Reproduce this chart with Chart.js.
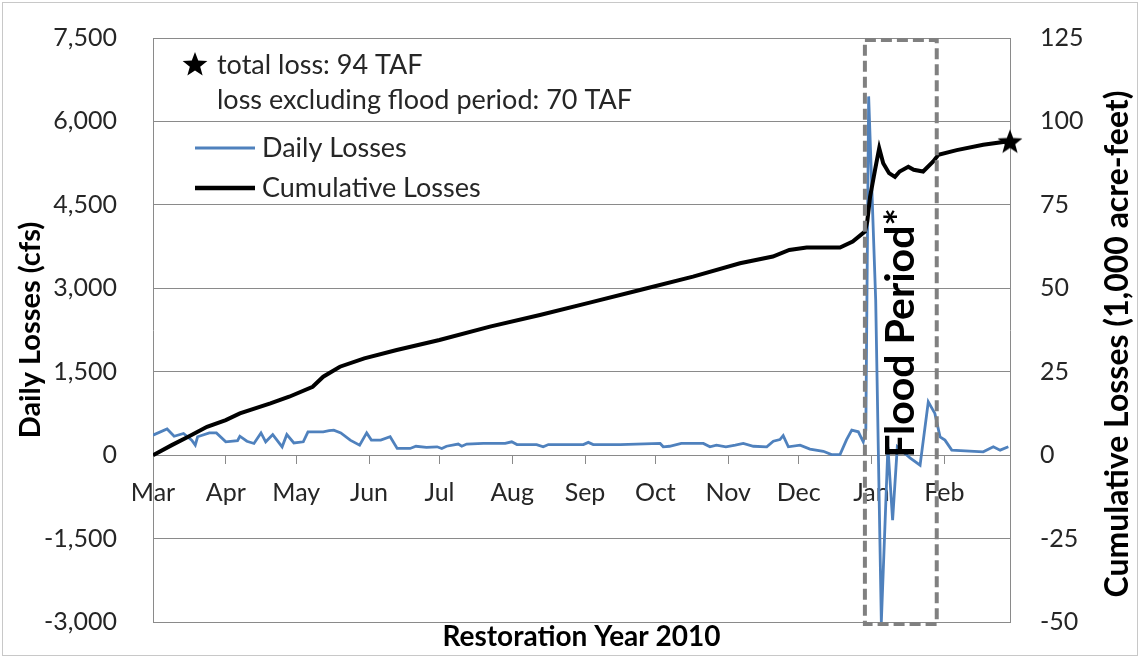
<!DOCTYPE html>
<html>
<head>
<meta charset="utf-8">
<script src="https://cdn.jsdelivr.net/npm/chart.js@4.4.1/dist/chart.umd.min.js"></script>
<style>
  html, body { margin: 0; padding: 0; background: #fff; }
  #wrap { width: 1140px; height: 658px; }
</style>
</head>
<body>
<div id="wrap"><canvas id="lossChart" width="1140" height="658"></canvas></div>
<script>
// Month ticks (days from Mar 1) and their labels
const monthDays   = [0, 31, 61, 92, 122, 153, 184, 214, 245, 275, 306, 337];
const monthLabels = ["Mar", "Apr", "May", "Jun", "Jul", "Aug", "Sep", "Oct", "Nov", "Dec", "Jan", "Feb"];

// Daily losses (cfs)
const dailyDays = [0, 6, 9, 13, 16.5, 18, 19, 24, 27, 31, 36, 37, 40, 43, 46, 48, 51, 55, 57, 60, 64, 66,
  72.5, 75, 77, 80, 84, 88, 91, 93, 97, 101, 104, 109.5, 112, 116.5, 121, 123, 125, 130, 131.5, 133.6,
  140.7, 150, 152.8, 155, 163.4, 166.2, 168.4, 183.3, 185.4, 187.5, 199, 216, 217.3, 220, 225, 234.4,
  237.2, 240, 244, 248, 251.4, 255.7, 261.4, 264.2, 267, 268.4, 270.6, 275.6, 279.8, 285.5, 289, 292.6,
  295.4, 297.6, 300.4, 302.5, 303.6, 304.8, 307.8, 310.2, 313, 315, 317, 322.4, 326.7, 330.2, 333,
  335.2, 337.3, 340.2, 353.6, 357.9, 360.8, 364.3];
const dailyCfs = [360, 470, 340, 390, 270, 180, 330, 400, 400, 240, 260, 340, 250, 210, 400, 240, 370, 150, 370, 220, 240, 420,
  420, 440, 450, 400, 270, 180, 400, 270, 270, 330, 120, 120, 160, 140, 150, 120, 160, 200, 160, 200,
  210, 210, 240, 190, 190, 150, 190, 190, 230, 190, 190, 210, 150, 160, 210, 210,
  150, 180, 150, 180, 210, 160, 150, 250, 280, 350, 150, 180, 110, 70, 10, 10,
  280, 450, 420, 240, 450, 6450, 2790, -3000, 150, -1170, 150, -50, -180, 960, 750,
  330, 270, 90, 60, 150, 90, 150];

// Cumulative losses (1,000 acre-feet)
const cumDays = [0, 8, 15, 23, 31, 37, 50, 58, 68, 72.5, 79.6, 90, 103.8, 122, 143.5, 164.8, 186, 207.4,
  230, 250, 264, 271, 278.4, 292.6, 298, 303.2, 304.2, 305.4, 307.5, 309.3, 311, 313.5, 316, 318,
  321.7, 324, 328, 332.3, 334.5, 342.3, 353.6, 363.6, 365];
const cumTaf = [0, 3, 5.5, 8.5, 10.5, 12.5, 15.5, 17.5, 20.5, 23.5, 26.5, 29, 31.5, 34.5, 38.5, 42, 45.7, 49.5,
  53.5, 57.5, 59.5, 61.5, 62.2, 62.2, 64, 67, 70, 77.4, 85.4, 92, 87.5, 84.5, 83.4, 85,
  86.4, 85.5, 85, 88, 90, 91.4, 93, 94, 94.4];

const totalLossTaf   = 94;
const exclFloodTaf   = 70;
const floodStartDay  = 303.2;
const floodEndDay    = 333.8;

document.addEventListener("DOMContentLoaded", () => {
   const fontFamily = "Lato, 'Open Sans', sans-serif";
   const textColor  = "#262626";
   const gridColor  = "#8a8a8a";
   const blueColor  = "#4f81bd";

   // filled five-point star used as a marker
   const makeStar = (size) => {
      const c = document.createElement("canvas");
      c.width = size; c.height = size;
      const g = c.getContext("2d");
      const R = size / 2, r = R * 0.42;
      g.beginPath();
      for (let i = 0; i < 10; i++) {
         const rad = i % 2 === 0 ? R : r;
         const a = -Math.PI / 2 + i * Math.PI / 5;
         g.lineTo(R + rad * Math.cos(a), R + 1 + rad * Math.sin(a));
      }
      g.closePath();
      g.fillStyle = "#000";
      g.fill();
      return c;
   };
   const star = makeStar(26);

   const overlay = {
      id: "overlay",
      afterDatasetsDraw(chart) {
         const { ctx, chartArea, scales } = chart;
         const x0 = scales.x.getPixelForValue(floodStartDay);
         const x1 = scales.x.getPixelForValue(floodEndDay);
         ctx.save();
         ctx.strokeStyle = "#808080";
         ctx.lineWidth = 4;
         ctx.setLineDash([11, 5]);
         ctx.strokeRect(x0, chartArea.top + 2, x1 - x0, chartArea.bottom - chartArea.top);
         ctx.setLineDash([]);
         ctx.translate((x0 + x1) / 2, (chartArea.top + chartArea.bottom) / 2 + 3);
         ctx.rotate(-Math.PI / 2);
         ctx.font = `bold 41px ${fontFamily}`;
         ctx.fillStyle = "#000";
         ctx.textAlign = "center";
         ctx.textBaseline = "middle";
         ctx.fillText("Flood Period*", 0, 0);
         ctx.restore();
      },
      afterDraw(chart) {
         const { ctx, chartArea } = chart;
         ctx.save();
         // notes + legend
         ctx.font = `27px ${fontFamily}`;
         ctx.fillStyle = textColor;
         ctx.textBaseline = "middle";
         ctx.drawImage(star, 195 - 13, 64 - 13);
         ctx.fillText(`total loss: ${totalLossTaf} TAF`, 217, 65);
         ctx.fillText(`loss excluding flood period: ${exclFloodTaf} TAF`, 217, 100);
         ctx.lineWidth = 3;
         ctx.strokeStyle = blueColor;
         ctx.beginPath(); ctx.moveTo(195, 148); ctx.lineTo(255, 148); ctx.stroke();
         ctx.lineWidth = 4.5;
         ctx.strokeStyle = "#000";
         ctx.beginPath(); ctx.moveTo(195, 188); ctx.lineTo(255, 188); ctx.stroke();
         ctx.fillText("Daily Losses", 262, 148);
         ctx.fillText("Cumulative Losses", 262, 188);
         // right axis title, reads bottom to top like the left one
         ctx.translate(1118, (chartArea.top + chartArea.bottom) / 2 + 14);
         ctx.rotate(-Math.PI / 2);
         ctx.font = `bold 32px ${fontFamily}`;
         ctx.textAlign = "center";
         ctx.fillStyle = "#000";
         ctx.fillText("Cumulative Losses (1,000 acre-feet)", 0, 0);
         ctx.restore();
         // thin frame round the picture
         ctx.save();
         ctx.strokeStyle = "#c8c8c8";
         ctx.lineWidth = 1;
         ctx.strokeRect(2.5, 2.5, 1135, 653);
         ctx.restore();
      }
   };

   const tickFont  = { family: fontFamily, size: 25 };
   const titleFont = { family: fontFamily, size: 28, weight: "bold" };
   // keep tick padding from pushing the plot area inward
   const noEdgePadding = scale => { scale.paddingTop = 0; scale.paddingBottom = 0; };

   new Chart(document.getElementById("lossChart"), {
      type: "line",
      data: {
         datasets: [
            {
               label: "Total",
               data: [{ x: 365, y: totalLossTaf }],
               yAxisID: "y2",
               showLine: false,
               pointStyle: star,
               pointRadius: 13,
               clip: false,
               order: 0
            },
            {
               label: "Cumulative Losses",
               data: cumDays.map((d, i) => ({ x: d, y: cumTaf[i] })),
               yAxisID: "y2",
               borderColor: "#000",
               borderWidth: 4,
               pointRadius: 0,
               tension: 0,
               order: 1
            },
            {
               label: "Daily Losses",
               data: dailyDays.map((d, i) => ({ x: d, y: dailyCfs[i] })),
               yAxisID: "y",
               borderColor: blueColor,
               borderWidth: 2.8,
               pointRadius: 0,
               tension: 0,
               order: 2
            }
         ]
      },
      options: {
         responsive: false,
         animation: false,
         devicePixelRatio: 1,
         layout: { padding: { top: 38, left: 0, right: 0, bottom: 0 } },
         plugins: {
            legend: { display: false },
            tooltip: { enabled: false }
         },
         scales: {
            x: {
               type: "linear",
               position: { y: 0 },
               min: 0,
               max: 365,
               afterBuildTicks: scale => { scale.ticks = monthDays.map(v => ({ value: v })); },
               ticks: {
                  callback: (v, i) => monthLabels[i],
                  font: tickFont,
                  color: textColor,
                  padding: 15,
                  autoSkip: false,
                  maxRotation: 0
               },
               grid: { drawOnChartArea: false, tickLength: 8, color: gridColor },
               border: { color: gridColor, width: 1 }
            },
            xTitle: {
               type: "linear",
               position: "bottom",
               min: 0,
               max: 1,
               ticks: { display: false },
               grid: { display: false },
               border: { display: false },
               title: {
                  display: true,
                  text: "Restoration Year 2010",
                  font: titleFont,
                  color: "#000",
                  padding: { top: 0, bottom: 4 }
               },
               afterFit: scale => { scale.height = 36; }
            },
            y: {
               position: "left",
               min: -3000,
               max: 7500,
               afterBuildTicks: scale => {
                  const t = [];
                  for (let v = -3000; v <= 7500; v += 1500) t.push({ value: v });
                  scale.ticks = t;
               },
               ticks: {
                  font: tickFont,
                  color: textColor,
                  padding: 36,
                  callback: v => v.toLocaleString("en-US")
               },
               grid: { color: gridColor, drawTicks: false },
               border: { color: gridColor },
               title: {
                  display: true,
                  text: "Daily Losses (cfs)",
                  font: { family: fontFamily, size: 29, weight: "bold" },
                  color: "#000",
                  padding: { top: 13, bottom: 0 }
               },
               afterFit: scale => { scale.width = 153; noEdgePadding(scale); }
            },
            y2: {
               position: "right",
               min: -50,
               max: 125,
               afterBuildTicks: scale => {
                  const t = [];
                  for (let v = -50; v <= 125; v += 25) t.push({ value: v });
                  scale.ticks = t;
               },
               ticks: {
                  font: tickFont,
                  color: textColor,
                  padding: 30
               },
               grid: { drawOnChartArea: false, drawTicks: false },
               border: { color: gridColor },
               afterFit: scale => { scale.width = 130; noEdgePadding(scale); }
            }
         }
      },
      plugins: [overlay]
   });
});
</script>
</body>
</html>
